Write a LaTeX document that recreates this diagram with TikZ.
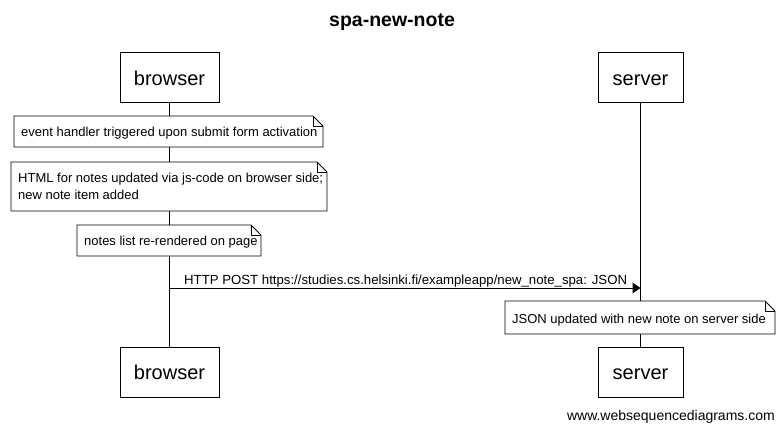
\documentclass[tikz,border=0pt]{standalone}
\usepackage{fontspec}
\setmainfont{Liberation Sans}
\begin{document}
\begin{tikzpicture}[x=1pt,y=-1pt,
  actor/.style={draw,line width=1pt,minimum height=50pt,inner sep=0pt,text height=18pt,text depth=2.5pt,font=\fontsize{20}{24}\selectfont},
  life/.style={line width=1pt},
  notetxt/.style={inner sep=0pt,align=left,anchor=base west,font=\fontsize{13}{17}\selectfont},
  notebox/.style={line width=0.8pt,fill=white},
  msg/.style={line width=1pt},
  lbl/.style={font=\fontsize{13.2}{15}\selectfont,inner sep=0pt}
]
\useasboundingbox (0,0) rectangle (784,431);
% title
\node[font=\bfseries\fontsize{19.5}{22}\selectfont] (title) at (392,22) {spa-new-note};
% actors
\node[actor,minimum width=99pt] (bt) at (169.5,77.5) {browser};
\node[actor,minimum width=85pt] (st) at (640.5,77.5) {server};
\node[actor,minimum width=99pt] (bb) at (169.5,372) {browser};
\node[actor,minimum width=85pt] (sb) at (640.5,372) {server};
% lifelines
\draw[life] (bt.south) -- (bb.north);
\draw[life] (st.south) -- (sb.north);
% notes: x1,y1,x2,y2,name,baseline of last line,text
\newcommand{\mynote}[7]{%
  \draw[notebox] (#1,#2) -- (#3-10,#2) -- (#3,#2+10) -- (#3,#4) -- (#1,#4) -- cycle;
  \draw[line width=0.8pt] (#3-10,#2) -- (#3-10,#2+10) -- (#3,#2+10);
  \node[notetxt] (#5) at (#1+7,#6) {#7};
}
\mynote{14}{116}{323}{147}{n1}{136}{event handler triggered upon submit form activation}
\mynote{11}{162}{327}{211}{n2}{199}{HTML for notes updated via js-code on browser side;\\new note item added}
\mynote{77}{225}{261}{256}{n3}{245}{notes list re-rendered on page}
% message
\coordinate (ms) at (169.5,288);
\coordinate (me) at (640.5,288);
\draw[msg] (ms) -- ([xshift=-7pt]me);
\fill (me) -- ++(-8,-5.5) -- ++(0,11) -- cycle;
\node[lbl,anchor=base west] (ml) at (184,284) {HTTP POST https://studies.cs.helsinki.fi/exampleapp/new\_note\_spa: JSON};
\mynote{505}{301}{775}{334}{n4}{323}{JSON updated with new note on server side}
% footer
\node[lbl,anchor=base east,font=\fontsize{14}{16}\selectfont] (foot) at (775,420) {www.websequencediagrams.com};
\end{tikzpicture}
\end{document}
